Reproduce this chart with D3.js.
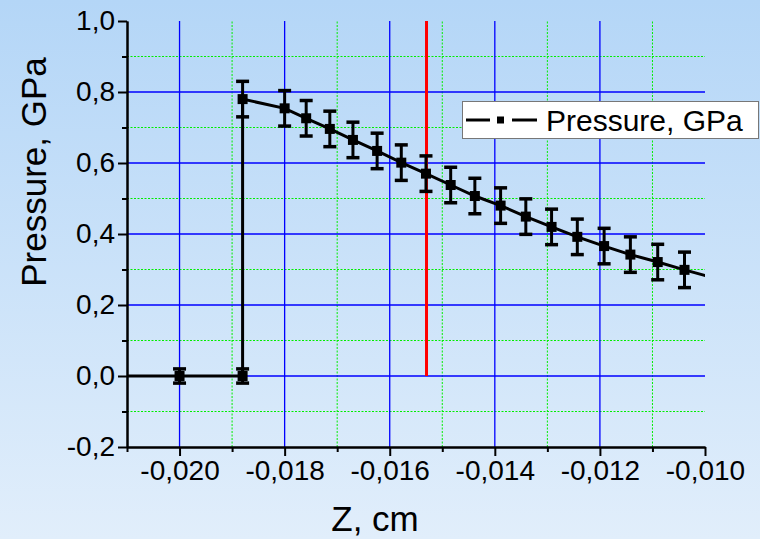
<!DOCTYPE html>
<html>
<head>
<meta charset="utf-8">
<script src="https://cdn.jsdelivr.net/npm/d3@7"></script>
<style>
  html, body { margin: 0; padding: 0; }
  body { width: 760px; height: 539px; overflow: hidden; font-family: "Liberation Sans", Arial, sans-serif; }
</style>
</head>
<body>
<div id="viz"></div>
<script>
// Data (z in cm, pressure in GPa)
const zValues = [-0.0212, -0.0200, -0.0188, -0.0188, -0.0180, -0.01759, -0.01714, -0.01670, -0.01624,
    -0.01578, -0.01531, -0.01484, -0.01438, -0.01389, -0.01341, -0.01292, -0.01243, -0.01192,
    -0.01142, -0.01090, -0.01039, -0.00985];
const pressure = [0, 0, 0, 0.78, 0.754, 0.726, 0.696, 0.665, 0.634, 0.601, 0.570, 0.538, 0.507,
    0.480, 0.449, 0.420, 0.392, 0.366, 0.342, 0.321, 0.299, 0.277];
const pressureErr = [0.02, 0.02, 0.02, 0.05, 0.05, 0.05, 0.05, 0.05, 0.05, 0.05, 0.05, 0.05, 0.05,
    0.05, 0.05, 0.05, 0.05, 0.05, 0.05, 0.05, 0.05, 0.05];

const xMajorTicks = [-0.020, -0.018, -0.016, -0.014, -0.012, -0.010];
const xMinorTicks = [-0.021, -0.019, -0.017, -0.015, -0.013, -0.011];
const yMajorTicks = [-0.2, 0.0, 0.2, 0.4, 0.6, 0.8, 1.0];
const yMinorTicks = [-0.1, 0.1, 0.3, 0.5, 0.7, 0.9];

const markerZ = -0.0153;   // red vertical marker
const seriesName = "Pressure, GPa";

const width = 760;
const height = 539;
const margin = {top: 21, right: 55, bottom: 92, left: 127};

const locale = d3.formatLocale({decimal: ",", thousands: " ", grouping: [3], currency: ["", ""], minus: "-"});
const fmtX = locale.format(".3f");
const fmtY = locale.format(".1f");

const svg = d3.select("#viz").append("svg")
    .attr("width", width)
    .attr("height", height);

// background gradient
const defs = svg.append("defs");
const grad = defs.append("linearGradient")
    .attr("id", "bg").attr("x1", 0).attr("y1", 0).attr("x2", 0).attr("y2", 1);
grad.append("stop").attr("offset", "0%").attr("stop-color", "#b4d6f7");
grad.append("stop").attr("offset", "100%").attr("stop-color", "#e1eefb");
svg.append("rect").attr("width", width).attr("height", height).attr("fill", "url(#bg)");

const x = d3.scaleLinear()
    .domain([-0.021, -0.010])
    .range([margin.left, width - margin.right]);
const y = d3.scaleLinear()
    .domain([-0.2, 1.0])
    .range([height - margin.bottom, margin.top]);

defs.append("clipPath").attr("id", "plot")
    .append("rect")
    .attr("x", x.range()[0]).attr("y", y.range()[1])
    .attr("width", x.range()[1] - x.range()[0])
    .attr("height", y.range()[0] - y.range()[1]);

// grid
const grid = svg.append("g");
grid.selectAll(".hminor").data(yMinorTicks).enter().append("line")
    .attr("x1", x.range()[0]).attr("x2", x.range()[1])
    .attr("y1", d => y(d)).attr("y2", d => y(d))
    .attr("stroke", "#00ee00").attr("stroke-width", 1).attr("stroke-dasharray", "2,1.5");
grid.selectAll(".vminor").data(xMinorTicks.filter(d => d > -0.021)).enter().append("line")
    .attr("x1", d => x(d)).attr("x2", d => x(d))
    .attr("y1", y.range()[0]).attr("y2", y.range()[1])
    .attr("stroke", "#00ee00").attr("stroke-width", 1).attr("stroke-dasharray", "2,1.5");
grid.selectAll(".hmajor").data(yMajorTicks.filter(d => d > -0.2 && d < 1.0)).enter().append("line")
    .attr("x1", x.range()[0]).attr("x2", x.range()[1])
    .attr("y1", d => y(d)).attr("y2", d => y(d))
    .attr("stroke", "#0000ff").attr("stroke-width", 1.3);
grid.selectAll(".vmajor").data(xMajorTicks.filter(d => d < -0.010)).enter().append("line")
    .attr("x1", d => x(d)).attr("x2", d => x(d))
    .attr("y1", y.range()[0]).attr("y2", y.range()[1])
    .attr("stroke", "#0000ff").attr("stroke-width", 1.3);

// red vertical line
svg.append("line")
    .attr("x1", x(markerZ)).attr("x2", x(markerZ))
    .attr("y1", y(0)).attr("y2", y(1.0))
    .attr("stroke", "#ff0000").attr("stroke-width", 3);

// series
const data = zValues.map((z, i) => ({z: z, p: pressure[i], e: pressureErr[i]}));
const plot = svg.append("g").attr("clip-path", "url(#plot)");

plot.append("path")
    .datum(data)
    .attr("fill", "none")
    .attr("stroke", "#000")
    .attr("stroke-width", 3)
    .attr("d", d3.line().x(d => x(d.z)).y(d => y(d.p)));

const bars = plot.selectAll(".err").data(data).enter().append("g");
bars.append("line")
    .attr("x1", d => x(d.z)).attr("x2", d => x(d.z))
    .attr("y1", d => y(d.p - d.e)).attr("y2", d => y(d.p + d.e))
    .attr("stroke", "#000").attr("stroke-width", 3);
bars.append("line")
    .attr("x1", d => x(d.z) - 6.5).attr("x2", d => x(d.z) + 6.5)
    .attr("y1", d => y(d.p + d.e)).attr("y2", d => y(d.p + d.e))
    .attr("stroke", "#000").attr("stroke-width", 3.5);
bars.append("line")
    .attr("x1", d => x(d.z) - 6.5).attr("x2", d => x(d.z) + 6.5)
    .attr("y1", d => y(d.p - d.e)).attr("y2", d => y(d.p - d.e))
    .attr("stroke", "#000").attr("stroke-width", 3.5);
bars.append("rect")
    .attr("x", d => x(d.z) - 5).attr("y", d => y(d.p) - 5)
    .attr("width", 10).attr("height", 10)
    .attr("fill", "#000");

// axes
function styleAxis(g) {
    g.select(".domain").attr("stroke", "#000").attr("stroke-width", 2);
    g.selectAll(".tick line").attr("stroke", "#000").attr("stroke-width", 2);
    g.selectAll("text").attr("fill", "#000")
        .style("font-family", "'Liberation Sans', Arial, sans-serif")
        .style("font-size", "28px");
}

svg.append("g")
    .attr("transform", `translate(0,${y.range()[0]})`)
    .call(d3.axisBottom(x).tickValues(xMinorTicks).tickSize(5).tickFormat("").tickSizeOuter(0))
    .call(styleAxis);
svg.append("g")
    .attr("transform", `translate(0,${y.range()[0]})`)
    .call(d3.axisBottom(x).tickValues(xMajorTicks).tickSize(9).tickPadding(4).tickFormat(fmtX).tickSizeOuter(0))
    .call(styleAxis);

svg.append("g")
    .attr("transform", `translate(${x.range()[0]},0)`)
    .call(d3.axisLeft(y).tickValues(yMinorTicks).tickSize(5).tickFormat("").tickSizeOuter(0))
    .call(styleAxis);
svg.append("g")
    .attr("transform", `translate(${x.range()[0]},0)`)
    .call(d3.axisLeft(y).tickValues(yMajorTicks).tickSize(9).tickPadding(3).tickFormat(fmtY).tickSizeOuter(0))
    .call(styleAxis);

// axis titles
svg.append("text")
    .attr("x", 375).attr("y", 531)
    .attr("text-anchor", "middle")
    .style("font-size", "35px")
    .text("Z, cm");
svg.append("text")
    .attr("transform", "translate(46,172) rotate(-90)")
    .attr("text-anchor", "middle")
    .style("font-size", "35px")
    .text("Pressure, GPa");

// legend
const legend = svg.append("g");
legend.append("rect")
    .attr("x", 462.5).attr("y", 101.5)
    .attr("width", 296).attr("height", 37)
    .attr("fill", "#fff").attr("stroke", "#777").attr("stroke-width", 1);
legend.append("line").attr("x1", 466).attr("x2", 490).attr("y1", 120).attr("y2", 120)
    .attr("stroke", "#000").attr("stroke-width", 3);
legend.append("line").attr("x1", 512).attr("x2", 537).attr("y1", 120).attr("y2", 120)
    .attr("stroke", "#000").attr("stroke-width", 3);
legend.append("rect").attr("x", 497).attr("y", 116.5).attr("width", 7).attr("height", 7).attr("fill", "#000");
legend.append("text")
    .attr("x", 546).attr("y", 131)
    .style("font-size", "30px")
    .text(seriesName);
</script>
</body>
</html>
